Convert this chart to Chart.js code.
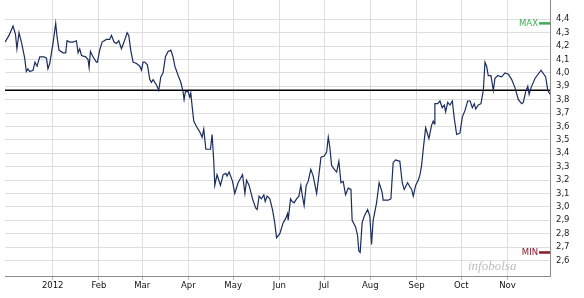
<!DOCTYPE html>
<html>
<head>
<meta charset="utf-8">
<script src="https://cdn.jsdelivr.net/npm/chart.js@4/dist/chart.umd.min.js"></script>
<style>
    html, body { margin: 0; padding: 0; background: #ffffff; }
    #grafico { display: block; }
</style>
</head>
<body>
<canvas id="grafico" width="584" height="298"></canvas>
<script>
// días desde el 1 de enero de 2012 (negativos = diciembre 2011)
const dias = [
    -32.0, -29.3, -26.6, -25.0, -24.0, -22.6, -20.8, -18.8, -17.7, -16.6,
    -15.4, -13.2, -11.9, -10.5, -8.7, -5.8, -4.2, -3.2, -2.0, 0.2,
    2.0, 2.9, 4.2, 6.9, 8.7, 9.6, 11.4, 13.6, 15.9, 17.0,
    18.1, 19.3, 22.1, 23.7, 24.4, 25.3, 27.0, 29.3, 30.0, 31.5,
    33.1, 36.0, 38.2, 39.4, 41.1, 42.7, 44.3, 46.1, 47.8, 49.9,
    51.0, 52.3, 53.9, 56.2, 58.4, 59.5, 60.6, 61.7, 63.5, 65.1,
    66.2, 67.3, 69.6, 71.1, 72.5, 74.0, 75.6, 77.4, 79.2, 80.7,
    81.9, 84.1, 85.9, 87.4, 88.1, 89.0, 90.8, 91.9, 92.6, 93.5,
    94.6, 96.4, 98.6, 100.2, 101.3, 102.7, 105.8, 106.9, 108.0, 108.7,
    110.2, 112.5, 114.3, 116.1, 116.9, 118.3, 120.6, 122.1, 124.3, 127.3,
    128.9, 130.0, 131.7, 134.0, 136.2, 137.1, 138.4, 140.0, 141.6, 142.5,
    143.8, 145.6, 147.4, 148.9, 150.1, 152.3, 154.5, 156.1, 157.5, 157.9,
    159.5, 160.6, 161.9, 163.5, 165.1, 166.4, 167.3, 168.6, 170.0, 171.3,
    173.1, 174.7, 177.0, 178.0, 179.9, 182.1, 183.7, 184.8, 185.9, 187.0,
    188.8, 190.4, 191.9, 193.3, 194.8, 196.4, 198.2, 200.0, 200.8, 203.1,
    204.4, 205.3, 206.2, 207.5, 208.9, 211.2, 212.7, 213.8, 214.9, 217.2,
    218.9, 220.9, 221.6, 225.0, 226.8, 228.3, 229.9, 232.8, 234.4, 235.7,
    238.0, 239.5, 240.7, 241.8, 243.4, 245.2, 246.3, 247.4, 248.5, 250.1,
    252.3, 254.1, 255.2, 255.9, 256.3, 258.1, 259.7, 261.2, 262.6, 263.5,
    264.9, 266.4, 268.0, 269.3, 270.9, 273.1, 274.7, 276.5, 278.3, 279.9,
    281.4, 282.7, 283.7, 285.4, 287.2, 288.8, 289.9, 291.0, 292.1, 293.9,
    295.5, 296.6, 298.4, 301.1, 303.3, 305.6, 307.8, 310.0, 312.3, 314.5,
    315.6, 317.2, 318.6, 319.5, 320.8, 323.5, 327.5, 330.6, 332.0, 333.5,
];

const cotizacion = [
    4.23, 4.28, 4.35, 4.29, 4.18, 4.30, 4.22, 4.11, 4.01, 4.03,
    4.01, 4.02, 4.08, 4.05, 4.12, 4.12, 4.11, 4.03, 4.07, 4.22,
    4.37, 4.27, 4.17, 4.15, 4.15, 4.24, 4.23, 4.23, 4.24, 4.15,
    4.18, 4.13, 4.12, 4.10, 4.04, 4.16, 4.12, 4.08, 4.08, 4.17,
    4.23, 4.25, 4.25, 4.28, 4.23, 4.22, 4.24, 4.18, 4.23, 4.30,
    4.28, 4.17, 4.08, 4.07, 4.05, 4.02, 4.08, 4.08, 4.06, 3.95,
    3.93, 3.95, 3.91, 3.87, 3.97, 4.00, 4.12, 4.16, 4.17, 4.12,
    4.05, 3.98, 3.93, 3.86, 3.80, 3.86, 3.86, 3.82, 3.85, 3.75,
    3.64, 3.60, 3.56, 3.52, 3.58, 3.43, 3.43, 3.54, 3.34, 3.16,
    3.24, 3.16, 3.24, 3.25, 3.23, 3.26, 3.19, 3.10, 3.18, 3.24,
    3.10, 3.20, 3.16, 3.06, 2.99, 2.98, 3.08, 3.06, 3.09, 3.04,
    3.08, 3.06, 2.98, 2.88, 2.77, 2.80, 2.88, 2.91, 2.95, 2.90,
    3.06, 3.04, 3.03, 3.06, 3.08, 3.16, 3.09, 3.01, 3.16, 3.19,
    3.28, 3.23, 3.10, 3.19, 3.37, 3.38, 3.41, 3.52, 3.44, 3.31,
    3.28, 3.26, 3.34, 3.18, 3.19, 3.09, 3.14, 3.13, 2.90, 2.85,
    2.79, 2.67, 2.66, 2.88, 2.93, 2.98, 2.93, 2.72, 2.90, 3.03,
    3.18, 3.11, 3.05, 3.05, 3.06, 3.33, 3.35, 3.34, 3.18, 3.13,
    3.18, 3.15, 3.13, 3.08, 3.16, 3.20, 3.24, 3.31, 3.43, 3.59,
    3.51, 3.61, 3.64, 3.62, 3.77, 3.77, 3.79, 3.74, 3.76, 3.71,
    3.78, 3.76, 3.79, 3.66, 3.54, 3.55, 3.67, 3.72, 3.79, 3.79,
    3.74, 3.77, 3.73, 3.76, 3.77, 3.87, 4.08, 4.05, 3.98, 3.98,
    3.87, 3.96, 3.98, 3.97, 4.00, 3.99, 3.95, 3.89, 3.80, 3.77,
    3.78, 3.86, 3.90, 3.84, 3.89, 3.96, 4.02, 3.97, 3.87, 3.84,
];

const cierreReferencia = 3.87;

const mesesDias = [0, 31, 60, 91, 121, 152, 182, 213, 244, 274, 305];
const mesesEtiquetas = ['2012', 'Feb', 'Mar', 'Apr', 'May', 'Jun', 'Jul', 'Aug', 'Sep', 'Oct', 'Nov'];
const precioTicks = [2.6, 2.7, 2.8, 2.9, 3.0, 3.1, 3.2, 3.3, 3.4, 3.5, 3.6, 3.7, 3.8, 3.9, 4.0, 4.1, 4.2, 4.3, 4.4];

const X_MIN = -32;
const X_MAX = 333.5;
const FUENTE = '"DejaVu Sans", Verdana, sans-serif';

const serie = dias.map((d, i) => ({ x: d, y: cotizacion[i] }));

// sin el margen que Chart.js reserva para medias etiquetas en los extremos
function sinPadding(s) {
    s.paddingTop = 0;
    s.paddingBottom = 0;
    s.paddingLeft = 0;
    s.paddingRight = 0;
}

const marcasPlugin = {
    id: 'marcasMaxMin',
    afterDraw(c) {
        const { ctx, chartArea, scales } = c;
        const y = scales.y;
        const yMax = y.getPixelForValue(Math.max(...cotizacion));
        const yMin = y.getPixelForValue(Math.min(...cotizacion));
        const r = chartArea.right;
        ctx.save();
        ctx.font = '8.5px ' + FUENTE;
        ctx.textAlign = 'right';
        ctx.textBaseline = 'middle';
        ctx.fillStyle = '#3cae55';
        ctx.fillText('MAX', r - 12, yMax);
        ctx.fillRect(r - 11, yMax - 1.2, 11, 2.5);
        ctx.fillStyle = '#8c1b2e';
        ctx.fillText('MIN', r - 12, yMin);
        ctx.fillRect(r - 11, yMin - 1.2, 11, 2.5);
        // marca de agua
        ctx.font = 'italic 13px "Liberation Serif", serif';
        ctx.textAlign = 'left';
        ctx.fillStyle = '#bdbdbd';
        ctx.fillText('infobolsa', r - 82, chartArea.bottom - 9);
        ctx.restore();
    },
};

new Chart(document.getElementById('grafico').getContext('2d'), {
    type: 'line',
    data: {
        datasets: [
            {
                data: serie,
                borderColor: '#1b2d5e',
                borderWidth: 1.2,
                pointRadius: 0,
                tension: 0,
                order: 1,
            },
            {
                data: [
                    { x: X_MIN, y: cierreReferencia },
                    { x: X_MAX, y: cierreReferencia },
                ],
                borderColor: '#000000',
                borderWidth: 1.5,
                pointRadius: 0,
                order: 2,
            },
        ],
    },
    options: {
        animation: false,
        responsive: false,
        devicePixelRatio: 1,
        layout: { padding: { left: 5, top: 0, right: 0, bottom: 0 } },
        plugins: {
            legend: { display: false },
            tooltip: { enabled: false },
        },
        scales: {
            x: {
                type: 'linear',
                min: X_MIN,
                max: X_MAX,
                afterBuildTicks(s) {
                    s.ticks = mesesDias.map((v) => ({ value: v }));
                },
                afterFit(s) {
                    s.height = 22;
                    sinPadding(s);
                },
                grid: { color: '#dedede', lineWidth: 1, tickLength: 4, tickColor: '#bbbbbb' },
                border: { color: '#8a8a8a' },
                ticks: {
                    color: '#111111',
                    font: { size: 8.5, family: FUENTE },
                    padding: 1,
                    maxRotation: 0,
                    autoSkip: false,
                    callback: (v) => mesesEtiquetas[mesesDias.indexOf(v)] ?? '',
                },
            },
            y: {
                type: 'linear',
                position: 'right',
                min: 2.484,
                max: 4.544,
                afterBuildTicks(s) {
                    s.ticks = precioTicks.map((v) => ({ value: v }));
                },
                afterFit(s) {
                    s.width = 34;
                    sinPadding(s);
                },
                grid: { color: '#dedede', lineWidth: 1, drawTicks: false },
                border: { color: '#8a8a8a' },
                ticks: {
                    color: '#222222',
                    font: { size: 8.5, family: FUENTE },
                    padding: 6,
                    callback: (v) => v.toFixed(1).replace('.', ','),
                },
            },
        },
    },
    plugins: [marcasPlugin],
});
</script>
</body>
</html>
